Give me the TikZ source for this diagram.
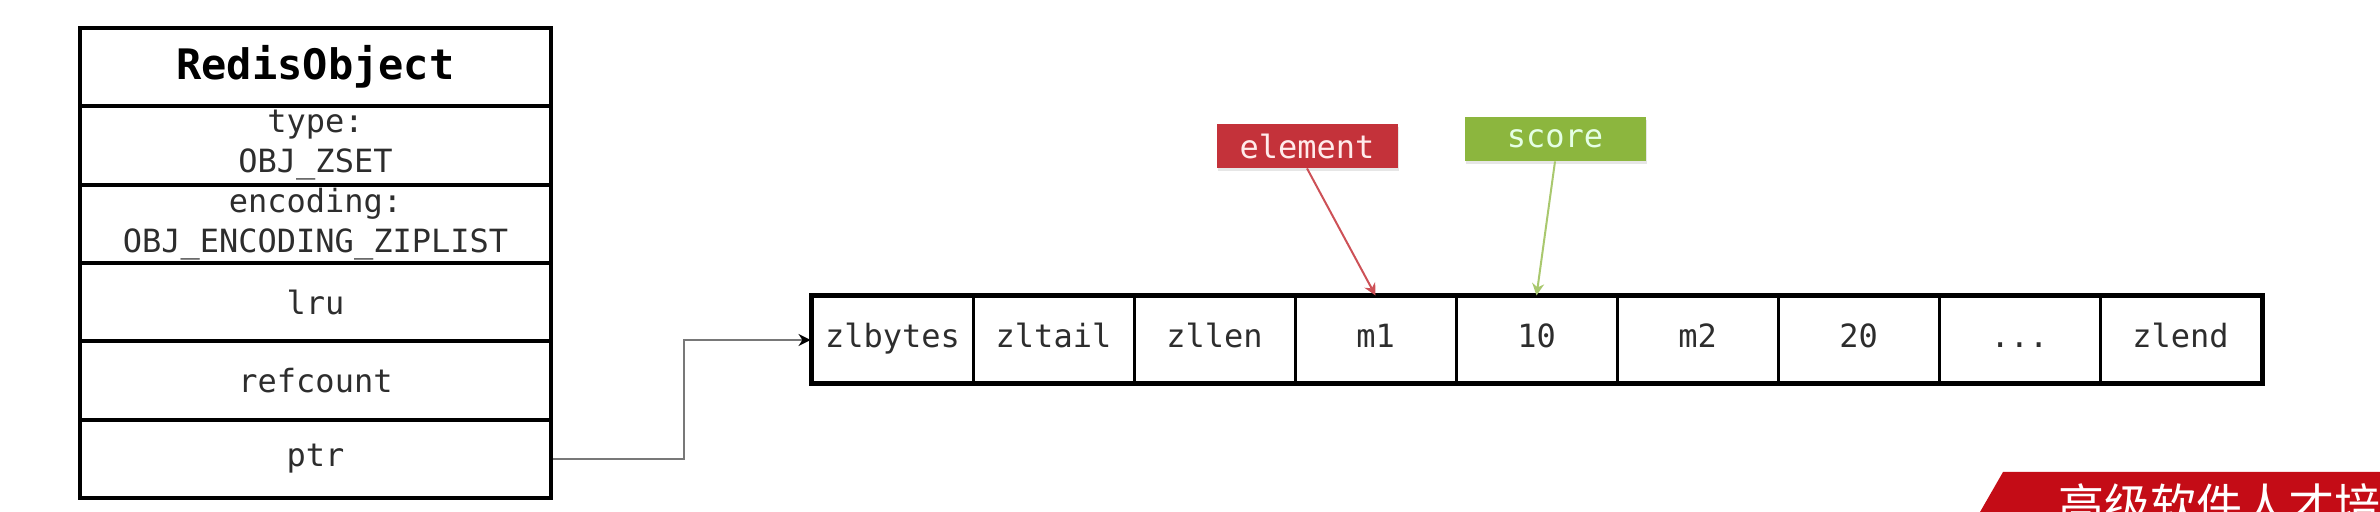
\documentclass[tikz,border=0pt]{standalone}
\usepackage{fontspec}
\setmonofont{DejaVu Sans Mono}
\newfontfamily\cjk{Noto Sans CJK SC}
\usepackage{xcolor}
\usetikzlibrary{arrows.meta,shadows}

\definecolor{tagred}{RGB}{196,50,58}
\definecolor{taggreen}{RGB}{140,182,62}
\definecolor{linkgray}{RGB}{120,120,120}
\definecolor{txtgray}{RGB}{45,45,45}
\definecolor{bannerred}{RGB}{196,12,22}

\begin{document}
\begin{tikzpicture}[x=0.5pt, y=-0.5pt,
        field/.style={draw, line width=1.8pt, minimum width=235.5pt, minimum height=39.2pt, inner sep=0pt, align=center, text=txtgray, font=\ttfamily\fontsize{16}{20}\selectfont},
        cell/.style={draw, line width=1.5pt, minimum width=80.5pt, minimum height=43pt, inner sep=0pt, text height=11pt, text depth=3.5pt, text=txtgray, font=\ttfamily\fontsize{16}{19}\selectfont},
        tag/.style={minimum width=90.5pt, minimum height=22pt, inner sep=0pt, font=\ttfamily\fontsize{16}{19}\selectfont, drop shadow={opacity=0.2, shadow xshift=0.8pt, shadow yshift=-1.5pt}},
        link/.style={draw=linkgray, line width=1pt, -{Stealth[length=6pt, width=6pt, color=black]}},
    ]
        \useasboundingbox (0,0) rectangle (2380,512);

        % redis object
        \node[field, font=\ttfamily\bfseries\fontsize{21}{24}\selectfont, text=black] (title) at (315.5,67) {RedisObject};
        \node[field] (type) at (315.5,145.5) {type:\\OBJ\_ZSET};
        \node[field] (enc)  at (315.5,224)   {encoding:\\OBJ\_ENCODING\_ZIPLIST};
        \node[field] (lru)  at (315.5,302)   {lru};
        \node[field] (ref)  at (315.5,380.5) {refcount};
        \node[field] (ptr)  at (315.5,459)   {ptr};

        % ziplist
        \node[cell] (c1) at (892.5,340)  {zlbytes};
        \node[cell] (c2) at (1053.5,340) {zltail};
        \node[cell] (c3) at (1214.5,340) {zllen};
        \node[cell] (c4) at (1375.5,340) {m1};
        \node[cell] (c5) at (1536.5,340) {10};
        \node[cell] (c6) at (1697.5,340) {m2};
        \node[cell] (c7) at (1858.5,340) {20};
        \node[cell] (c8) at (2019.5,340) {.\kern0pt.\kern0pt.};
        \node[cell] (c9) at (2180.5,340) {zlend};
        \draw[line width=2pt] (c1.north west) rectangle (c9.south east);

        \draw[link] (ptr.east) -- ++(131,0) |- (c1.west);

        % entry labels
        \node[tag, fill=tagred, text=white!92!red] (elem) at (1307,146) {element};
        \node[tag, fill=taggreen, text=white!90!green] (score) at (1555,139) {score};
        \draw[tagred!85!white, line width=1pt, -{Stealth[length=6pt, width=6pt]}] (elem.south) -- (c4.north);
        \draw[taggreen!75!white, line width=1pt, -{Stealth[length=6pt, width=6pt]}] (score.south) -- (c5.north);

        % watermark
        \fill[bannerred] (1980,512) -- (2003,472) -- (2380,472) -- (2380,512) -- cycle;
        \node[anchor=base west, inner sep=0pt, text=white, font=\cjk\fontsize{23}{23}\selectfont] (wm) at (2058,522) {高级软件人才培训};
    \end{tikzpicture}
\end{document}
